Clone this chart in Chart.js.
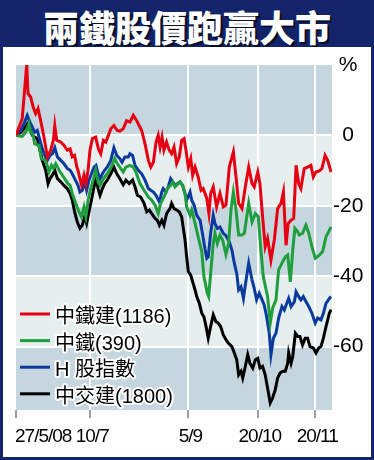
<!DOCTYPE html>
<html>
<head>
<meta charset="utf-8">
<script src="https://cdn.jsdelivr.net/npm/chart.js@4"></script>
<style>
  body { margin: 0; background: #fff; }
  #frame { position: relative; width: 374px; height: 460px; background: #14246a; overflow: hidden; }
  #title {
    height: 47px; line-height: 47px; text-align: center; color: #fff;
    font: 900 36px 'Noto Sans CJK TC', sans-serif;
    text-shadow: 2px 2px 1px rgba(0, 0, 0, 0.65);
  }
  #panel { position: absolute; left: 3px; top: 47px; width: 368px; height: 410px; background: #fff; }
  canvas { display: block; }
</style>
</head>
<body>
<div id="frame">
  <div id="title">兩鐵股價跑贏大市</div>
  <div id="panel"><canvas id="chart" width="368" height="410"></canvas></div>
</div>
<script>
// x = trading day counted from 27/5/08, y = % change
const seriesNames = ['中鐵建(1186)', '中鐵(390)', 'H 股指數', '中交建(1800)'];
const seriesColors = ['#e60012', '#1e9e3c', '#0b3a9e', '#000000'];

const xTicks = [0, 31, 72, 101, 125];
const xLabels = ['27/5/08', '10/7', '5/9', '20/10', '20/11'];
const yTicks = [20, 0, -20, -40, -60];

const crccPts = [[0,0],[2.6,4.8],[4.5,20.3],[5,11.9],[6.1,10.9],[7.2,8],[8.2,6.2],[9.2,7.6],[10.3,4.2],[11.7,-0.5],[13.1,-6.1],[14.5,-4.2],[15.6,-1.4],[16.2,2.8],[17,-1.4],[18.7,-1.9],[20,-2.8],[21.4,-4.2],[22.6,-3.8],[23.5,-6.1],[24.5,-5.7],[25.4,-9],[25.9,-9.9],[26.7,-12.3],[27.4,-14.2],[28.4,-11.3],[29.2,-13.7],[30.1,-9.9],[30.9,-4.2],[31.9,-0.9],[33.3,-0.5],[34.4,-3.8],[35.4,-5.2],[36.5,-1.4],[37.5,-1.9],[38.6,0],[39.6,1.9],[40.9,2.8],[42.3,1.4],[43.4,1.2],[44.8,1.9],[46.2,4.2],[47.6,3.8],[49,5.7],[50.4,4.2],[52.5,1.4],[53.9,-2.4],[55.3,-7.1],[56.3,-9],[57.4,-7.6],[58.5,-1.9],[59.4,0],[60.2,-3.3],[61,-0.5],[61.8,-4.2],[62.9,-1.9],[64,-4.2],[65,-5.2],[66,-3.3],[67.1,-8],[68.2,-6.1],[69.2,-1.4],[70.2,-0.9],[71,-4.2],[72,-9],[73,-6.6],[73.8,-11.3],[74.8,-9],[76.1,-11.8],[77.3,-15.6],[78.2,-15.1],[79.7,-17.9],[80.6,-22.2],[81.3,-16.5],[82.4,-14.6],[83.8,-20.3],[85.2,-16.5],[86.6,-20.3],[87.7,-19.8],[89.1,-9],[90.8,-4.7],[91.9,-11.8],[93,-19.3],[94.4,-20.8],[95.8,-14.6],[97.2,-9],[98.6,-13.7],[99.5,-14.6],[101,-10.4],[101.9,-13.7],[103,-23.1],[104.1,-31.6],[105.1,-29.3],[106.5,-35.4],[107.9,-29.7],[109.3,-20.8],[110.7,-19.3],[111.7,-16.1],[112.8,-31.2],[113.7,-25],[114.9,-24.1],[116,-23.6],[117,-8.5],[118.1,-13.7],[119,-15.1],[120.4,-9.4],[121.8,-9],[123.2,-8.5],[124.2,-11.8],[125.3,-10.4],[126.7,-10.1],[127.8,-9.4],[129.1,-5.7],[130.2,-7.1],[131.6,-10.4]];

const crgPts = [[0,0],[2.6,-0.3],[4.5,1.4],[5.4,3.3],[6.1,0.9],[7.2,0],[7.8,-2.4],[9.6,-2.8],[10.6,-6.6],[12.4,-7.1],[13.8,-10.4],[14.8,-8.5],[15.6,-9.4],[16.6,-8],[18,-9.9],[19.4,-11.3],[20.3,-12.3],[21.7,-13.7],[22.6,-14.2],[23.5,-16.5],[24.5,-18.4],[26.3,-21.7],[27.3,-23.1],[28.4,-20.3],[29.2,-23.1],[30.1,-18.4],[31.2,-15.1],[32.6,-11.8],[33.3,-9.9],[34.3,-13.2],[35.1,-14.2],[36.5,-12.3],[38.1,-10.9],[39.8,-9],[41.2,-6.6],[42.3,-8],[43.7,-9.4],[44.8,-10.4],[45.9,-9],[47.6,-8.5],[49,-9],[50.1,-10.4],[51.8,-13.7],[53.5,-15.6],[55.3,-17.5],[56.7,-18.4],[58.1,-19.8],[59.4,-22.2],[60.4,-19.3],[61.8,-17.5],[63.2,-15.1],[64.6,-14.2],[65.5,-13.2],[66.4,-14.6],[68.5,-13.2],[69.6,-14.2],[70.6,-16.5],[71.3,-20.3],[72.7,-22.7],[73.4,-21.2],[74.8,-25],[76.1,-28.8],[77.6,-33],[78.5,-40.1],[79.9,-44.8],[80.5,-45.8],[81.3,-39.2],[82.4,-30.7],[83.1,-27.8],[84.1,-30.7],[85.2,-28.3],[86.3,-29.7],[87.7,-33.8],[88.8,-30.7],[89.8,-21.2],[90.8,-16.1],[91.9,-21.2],[93,-28.3],[94.4,-28.3],[95.4,-27.8],[97.2,-19.3],[98.6,-24.6],[100,-22.2],[101.2,-23.1],[102.3,-32.6],[103.3,-40.1],[105.1,-45.8],[106.2,-53.3],[107.2,-49.1],[108.6,-46.7],[109.7,-38.2],[111.1,-36.3],[112.5,-34.5],[113.5,-34],[114.6,-41.6],[115.6,-32.6],[116.5,-26.4],[117.7,-27.4],[118.3,-28.3],[119.7,-27.8],[121.1,-25.5],[122.3,-27.8],[123.6,-31.6],[125,-34.9],[126.7,-34],[128.1,-33],[129.5,-28.8],[131.6,-26]];

const hsciPts = [[0,0],[2,1.4],[3.3,3.3],[4.7,5.7],[5.8,3.8],[6.8,2.4],[7.8,0.9],[8.9,1.4],[10,-1.4],[11,-3.8],[12,-5.7],[13.1,-7.1],[14.2,-5.7],[15.2,-5.2],[16.2,-3.5],[17.3,-6.1],[18.7,-7.1],[20,-8],[21.4,-9.4],[22.6,-9.9],[23.5,-10.9],[24.5,-12.3],[25.9,-14.2],[26.7,-16.1],[27.7,-15.6],[28.7,-13.2],[29.5,-15.6],[30.5,-12.7],[31.5,-10.9],[32.6,-9],[33.4,-8.5],[34.3,-10.9],[35.1,-12.3],[36.1,-10.9],[37,-9.9],[38.1,-9],[39.6,-7.1],[40.9,-3.5],[42.1,-5.7],[43.4,-6.6],[44.3,-7.6],[45.5,-6.1],[46.9,-6.1],[47.6,-5.2],[48.7,-5.7],[49.7,-8.5],[51.1,-9.9],[52.5,-10.9],[53.9,-12.7],[55.3,-15.1],[56.3,-15.6],[57.4,-16.1],[58.5,-17],[59.9,-18.9],[60.9,-16.1],[61.5,-15.1],[62.7,-16.1],[63.6,-14.6],[64.6,-12.3],[65.5,-13.2],[66.4,-14.2],[67.4,-13.7],[68.5,-13.2],[69.6,-14.2],[70.6,-16.5],[71.3,-18.4],[72.7,-16.1],[73.4,-18.4],[74.4,-19.8],[75.5,-22.7],[76.9,-24.1],[78,-28.3],[78.9,-32.1],[79.7,-34.9],[80.3,-34.5],[81.3,-27.8],[82.4,-22.7],[83.1,-25],[84.1,-26.4],[85.2,-26],[86.6,-27.8],[87.7,-28.5],[89.1,-30.2],[90.2,-32.6],[91.2,-36.3],[92.2,-39.2],[93,-43.9],[94,-43],[95,-46.3],[95.8,-42.5],[97.2,-36.3],[98.6,-41.1],[99.5,-43.4],[100.5,-46.7],[101.6,-44.8],[102.8,-46.7],[103.7,-48.2],[104.7,-51.5],[105.8,-56.2],[106.5,-62.3],[107.5,-57.6],[108.6,-56.2],[109.7,-51.9],[111.1,-48.6],[112.1,-49.6],[113.1,-47.7],[113.9,-46.3],[114.9,-48.6],[116.3,-47.2],[117,-44.4],[118.1,-45.8],[119,-46.7],[120,-45.8],[121.1,-47.2],[122.3,-48.6],[123.6,-50.5],[125,-53.3],[126,-51.9],[127.4,-52.4],[128.4,-50.5],[129.5,-47.7],[130.9,-46.3],[131.6,-45.8]];

const cccPts = [[0,0],[2,0.9],[3.3,1.9],[4.7,3.3],[5.8,1.9],[6.8,0],[7.8,-0.5],[8.9,-0.9],[10,-4.2],[11,-7.1],[12.4,-9.9],[13.4,-13.7],[14.2,-12.3],[15.2,-11.3],[16.2,-9.9],[17.3,-12.3],[18.7,-13.2],[20,-14.2],[21.4,-15.1],[22.6,-16.5],[23.5,-18.4],[24.5,-21.7],[25.6,-24.6],[26.7,-26.4],[27.7,-25.5],[28.7,-23.1],[29.5,-25],[30.5,-21.7],[31.5,-18.4],[32.6,-14.6],[33.4,-12.3],[34.3,-15.1],[35.1,-17],[36.1,-15.1],[37,-13.7],[38.1,-12.7],[39.6,-10.9],[40.9,-9],[42.1,-10.9],[43.4,-12.3],[44.8,-14],[45.9,-12.7],[47.3,-13.7],[48.7,-12.7],[49.7,-14.6],[50.7,-17],[52.1,-17.5],[53.5,-19.3],[54.6,-21.7],[55.7,-21.2],[56.7,-22.2],[58.1,-23.6],[59,-24.1],[59.9,-25.5],[60.9,-24.1],[61.8,-25.5],[62.9,-22.2],[64.3,-20.8],[65,-19.3],[66,-20.8],[67.1,-21.2],[68.2,-21.7],[69.2,-23.1],[69.9,-26.4],[70.6,-29.7],[71.3,-34.5],[72,-38.7],[73,-39.7],[73.8,-41.6],[74.8,-43.9],[75.5,-45.8],[76.6,-47.7],[77.6,-50.5],[78.5,-51.5],[79.4,-54.3],[80.3,-57.6],[81.3,-54.3],[82.4,-51],[83.5,-52.9],[84.5,-53.3],[85.5,-54.3],[86.6,-56.7],[87.7,-58],[88.7,-59],[90.2,-60],[91.2,-61.8],[92.2,-63.7],[93,-68],[94,-67],[94.7,-68.9],[95.8,-65.6],[96.8,-62.3],[97.7,-64.7],[98.9,-66.1],[100,-63.7],[101,-63.3],[101.9,-66.1],[103,-65.6],[104.1,-68],[105.1,-71.8],[106.2,-76],[107.2,-74.6],[108.3,-72.2],[109.3,-68.9],[110.3,-67.5],[111.4,-67],[112.5,-67],[113.5,-64.7],[113.9,-61.8],[114.9,-64.7],[115.6,-62.8],[116.7,-56.2],[117.7,-57.1],[118.6,-57.1],[119.7,-59.5],[120.8,-57.6],[121.8,-57.6],[122.8,-60],[124.2,-60.4],[125.3,-61.8],[126.4,-60.4],[127.4,-60],[128.4,-57.6],[129.5,-54.3],[130.9,-50.5],[131.6,-49.5]];

const allPts = [crccPts, crgPts, hsciPts, cccPts];

const bandDark = '#c6d6de';
const bandLight = '#e6eeee';
const latinFont = "'Liberation Sans', Arial, sans-serif";

// alternating background bands between the y gridlines
const bandsPlugin = {
  id: 'bands',
  beforeDraw(chart) {
    const { ctx, chartArea } = chart;
    const y = chart.scales.y;
    const edges = [...yTicks, y.min];
    ctx.save();
    for (let i = 0; i < edges.length - 1; i++) {
      const top = y.getPixelForValue(edges[i]);
      const bottom = y.getPixelForValue(edges[i + 1]);
      ctx.fillStyle = i % 2 === 0 ? bandDark : bandLight;
      ctx.fillRect(chartArea.left, top, chartArea.right - chartArea.left, bottom - top);
    }
    ctx.restore();
  }
};

// date labels: first one starts at its tick, the rest are centred
const xLabelPlugin = {
  id: 'xLabels',
  afterDraw(chart) {
    const { ctx, chartArea } = chart;
    const x = chart.scales.x;
    ctx.save();
    ctx.font = '19px ' + latinFont;
    ctx.letterSpacing = '-1px';
    ctx.fillStyle = '#000';
    ctx.textBaseline = 'alphabetic';
    xTicks.forEach((v, i) => {
      const px = x.getPixelForValue(v);
      ctx.textAlign = i === 0 ? 'left' : 'center';
      ctx.fillText(xLabels[i], i === 0 ? px - 1 : px + 2, chartArea.bottom + 32);
    });
    ctx.restore();
  }
};

// legend sits inside the plot, bottom left, with a white halo round the text
const legendPlugin = {
  id: 'innerLegend',
  afterDatasetsDraw(chart) {
    const { ctx, chartArea } = chart;
    ctx.save();
    ctx.font = "20px 'Liberation Sans', 'Noto Sans CJK TC', sans-serif";
    ctx.textAlign = 'left';
    ctx.textBaseline = 'alphabetic';
    chart.data.datasets.forEach((ds, i) => {
      const y = chartArea.top + 249 + i * 26.6;
      ctx.strokeStyle = ds.borderColor;
      ctx.lineWidth = 3;
      ctx.beginPath();
      ctx.moveTo(chartArea.left + 4, y);
      ctx.lineTo(chartArea.left + 34, y);
      ctx.stroke();
      ctx.lineWidth = 4;
      ctx.lineJoin = 'round';
      ctx.strokeStyle = '#fff';
      ctx.strokeText(ds.label, chartArea.left + 39, y + 9);
      ctx.fillStyle = '#000';
      ctx.fillText(ds.label, chartArea.left + 39, y + 9);
    });
    ctx.restore();
  }
};

new Chart(document.getElementById('chart'), {
  type: 'line',
  data: {
    datasets: allPts.map((pts, i) => ({
      label: seriesNames[i],
      data: pts.map(p => ({ x: p[0], y: p[1] })),
      borderColor: seriesColors[i],
      borderWidth: 3,
      pointRadius: 0,
      tension: 0,
      fill: false
    }))
  },
  options: {
    responsive: false,
    animation: false,
    layout: { padding: { left: 13, top: 18, right: 0, bottom: 0 } },
    plugins: {
      legend: { display: false },
      tooltip: { enabled: false }
    },
    scales: {
      x: {
        type: 'linear',
        min: 0,
        max: 132,
        afterBuildTicks: s => { s.ticks = xTicks.map(v => ({ value: v })); },
        afterFit: s => { s.height = 47; },
        border: { display: false },
        grid: {
          color: c => (c.tick && c.tick.value === 0 ? 'rgba(0,0,0,0)' : '#ffffff'),
          lineWidth: 2,
          drawTicks: true,
          tickLength: 8,
          tickColor: '#9c9c9c',
          tickWidth: 2
        },
        ticks: { display: false }
      },
      y: {
        position: 'right',
        min: -78,
        max: 20,
        afterBuildTicks: s => { s.ticks = yTicks.map(v => ({ value: v })); },
        afterFit: s => { s.width = 39; },
        border: { display: false },
        grid: {
          color: c => (c.tick && c.tick.value === 20 ? 'rgba(0,0,0,0)' : '#ffffff'),
          lineWidth: 2,
          drawTicks: false
        },
        ticks: {
          padding: 1,
          crossAlign: 'center',
          color: '#000',
          font: { family: latinFont, size: 21 },
          callback: v => (v === 20 ? '%' : String(v))
        }
      }
    }
  },
  plugins: [bandsPlugin, xLabelPlugin, legendPlugin]
});
</script>
</body>
</html>
